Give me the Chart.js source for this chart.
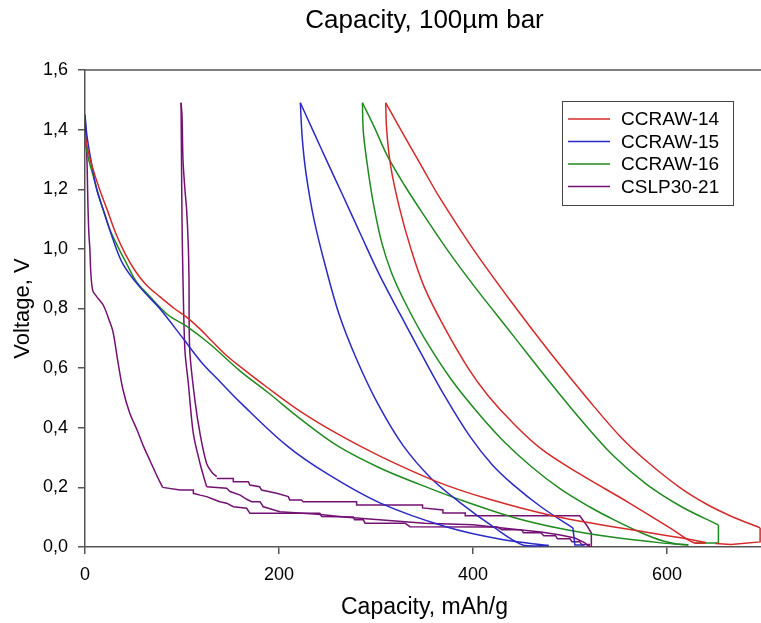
<!DOCTYPE html>
<html>
<head>
<meta charset="utf-8">
<script src="https://cdn.jsdelivr.net/npm/chart.js@4.4.0/dist/chart.umd.min.js"></script>
<style>
html,body{margin:0;padding:0;background:#fff;overflow:hidden;}
canvas{display:block;}
</style>
</head>
<body>
<canvas id="c" width="770" height="623"></canvas>
<script>
// ---- Data (capacity mAh/g, voltage V) ----
const seriesNames = ["CCRAW-14", "CCRAW-15", "CCRAW-16", "CSLP30-21"];
const seriesColors = ["#d42a2a", "#2a2ac4", "#1f8a1f", "#731273"];

const xTickValues = [0, 200, 400, 600];
const yTickValues = [0, 0.2, 0.4, 0.6, 0.8, 1.0, 1.2, 1.4, 1.6];

// CCRAW-14 (red)
const ccraw14Discharge1Cap  = [0,3,8,15,23,32,42,52,63,77,92,105,119,131,145,160,188,222,260,304,366,417,482,559,620,640];
const ccraw14Discharge1Volt = [1.38,1.33,1.27,1.20,1.13,1.05,0.98,0.925,0.88,0.84,0.80,0.77,0.73,0.69,0.645,0.605,0.535,0.455,0.38,0.305,0.215,0.160,0.105,0.060,0.028,0.015];
const ccraw14ChargeCap  = [640,627,605,560,510,470,440,415,395,370,350,336,324,315,311,310];
const ccraw14ChargeVolt = [0.013,0.015,0.06,0.15,0.245,0.33,0.42,0.51,0.60,0.74,0.87,1.00,1.14,1.28,1.40,1.49];
const ccraw14Discharge2Cap  = [310,322,336,350,366,400,440,480,520,552,580,613,640,665,696];
const ccraw14Discharge2Volt = [1.49,1.42,1.34,1.26,1.17,1.00,0.82,0.65,0.49,0.37,0.285,0.20,0.145,0.105,0.064];
const ccraw14TailCap  = [696,696,666,650];
const ccraw14TailVolt = [0.064,0.017,0.008,0.012];

// CCRAW-15 (blue)
const ccraw15Discharge1Cap  = [0,2,6,12,20,28,39,57,77,101,120,139,160,208,250,304,373,430,478];
const ccraw15Discharge1Volt = [1.45,1.38,1.30,1.20,1.12,1.04,0.95,0.87,0.80,0.70,0.62,0.555,0.485,0.34,0.245,0.148,0.067,0.025,0.005];
const ccraw15ChargeCap  = [478,452,420,387,357,328,302,280,262,248,236,228,224,222];
const ccraw15ChargeVolt = [0.005,0.006,0.07,0.148,0.23,0.34,0.48,0.63,0.78,0.94,1.10,1.25,1.37,1.49];
const ccraw15Discharge2Cap  = [222,236,250,265,284,304,325,348,372,397,420,441,470,503];
const ccraw15Discharge2Volt = [1.49,1.39,1.29,1.185,1.05,0.91,0.78,0.64,0.50,0.37,0.275,0.21,0.135,0.064];
const ccraw15TailCap  = [503,505,515];
const ccraw15TailVolt = [0.064,0.007,0.007];

// CCRAW-16 (green)
const ccraw16Discharge1Cap  = [0,3,8,15,25,35,43,53,64,85,105,129,160,188,222,260,304,345,387,441,490,541,596,622];
const ccraw16Discharge1Volt = [1.36,1.31,1.25,1.17,1.07,1.00,0.95,0.89,0.85,0.78,0.74,0.68,0.59,0.52,0.43,0.34,0.265,0.21,0.158,0.10,0.062,0.034,0.013,0.007];
const ccraw16ChargeCap  = [622,615,596,572,546,520,490,460,430,405,378,350,330,316,306,298,292,287,286];
const ccraw16ChargeVolt = [0.007,0.008,0.02,0.05,0.09,0.135,0.195,0.27,0.36,0.45,0.56,0.70,0.82,0.92,1.02,1.14,1.26,1.39,1.49];
const ccraw16Discharge2Cap  = [286,298,312,330,350,375,400,440,480,513,545,579,615,653];
const ccraw16Discharge2Volt = [1.49,1.41,1.31,1.21,1.11,0.99,0.88,0.715,0.55,0.42,0.305,0.21,0.135,0.074];
const ccraw16TailCap  = [653,653,630];
const ccraw16TailVolt = [0.074,0.013,0.013];

// CSLP30-21 (purple)
const cslpDischargeCurveCap  = [0,2,3,4,5,6,8,12,19,25,29,34,39,46,54,60,67,74,80];
const cslpDischargeCurveVolt = [1.45,1.30,1.15,1.05,1.00,0.92,0.86,0.84,0.81,0.76,0.72,0.62,0.53,0.45,0.39,0.34,0.29,0.24,0.20];
const cslpDischargeStepsCap  = [80,98,111.7,111.7,118.6,125.4,132.3,139,146,153,166.7,170,242,244,276.6,278,287,288.7,309,330,335,425,430,450,452,470,473,485,487,500,502,510,512,520,520];
const cslpDischargeStepsVolt = [0.20,0.191,0.191,0.180,0.174,0.169,0.160,0.152,0.147,0.135,0.130,0.113,0.113,0.102,0.101,0.091,0.091,0.080,0.080,0.080,0.068,0.067,0.058,0.058,0.048,0.048,0.038,0.038,0.028,0.028,0.018,0.018,0.008,0.008,0.0];
const cslpChargeStepsCap  = [520,515,505,490,470,440,400,350,300,270,240,201,189,183.8,180.4,171.8,166.7,160,149.5,146,125.4];
const cslpChargeStepsVolt = [0.0,0.015,0.03,0.04,0.05,0.06,0.075,0.08,0.092,0.10,0.11,0.118,0.13,0.135,0.152,0.152,0.160,0.174,0.186,0.197,0.202];
const cslpChargeRiseCap  = [125.4,122,118.6,111.7,106.5,103,101,100,99.5,99];
const cslpChargeRiseVolt = [0.202,0.24,0.28,0.38,0.55,0.66,0.90,1.10,1.30,1.49];
const cslpDischarge2DropCap  = [99,100,101,103,104.8,106.5,107.2,108,113.4,118.6,125.4,131,135.8];
const cslpDischarge2DropVolt = [1.49,1.45,1.30,1.20,1.13,1.01,0.90,0.66,0.49,0.38,0.28,0.25,0.236];
const cslpDischarge2StepsCap  = [135.8,152.9,152.9,168.4,170,180,182,197.6,209.6,211,223,225,280,280,348,348,369,369,392,392,510,517,522,522];
const cslpDischarge2StepsVolt = [0.230,0.230,0.219,0.219,0.208,0.202,0.191,0.180,0.169,0.158,0.158,0.152,0.152,0.141,0.141,0.131,0.124,0.114,0.114,0.105,0.105,0.074,0.047,0.0];

const FONT = "'Liberation Sans', Arial, sans-serif";

function pts(caps, volts) { return caps.map((c, j) => ({x: c, y: volts[j]})); }
function line(si, caps, volts, tension) {
  const color = seriesColors[si];
  return { label: seriesNames[si], data: pts(caps, volts), borderColor: color, backgroundColor: color,
           borderWidth: 1.5, pointRadius: 0, showLine: true, tension, fill: false };
}
const SMOOTH = 0.35;

const datasets = [
  line(0, ccraw14Discharge1Cap, ccraw14Discharge1Volt, SMOOTH),
  line(0, ccraw14ChargeCap, ccraw14ChargeVolt, SMOOTH),
  line(0, ccraw14Discharge2Cap, ccraw14Discharge2Volt, SMOOTH),
  line(0, ccraw14TailCap, ccraw14TailVolt, 0),
  line(1, ccraw15Discharge1Cap, ccraw15Discharge1Volt, SMOOTH),
  line(1, ccraw15ChargeCap, ccraw15ChargeVolt, SMOOTH),
  line(1, ccraw15Discharge2Cap, ccraw15Discharge2Volt, SMOOTH),
  line(1, ccraw15TailCap, ccraw15TailVolt, 0),
  line(2, ccraw16Discharge1Cap, ccraw16Discharge1Volt, SMOOTH),
  line(2, ccraw16ChargeCap, ccraw16ChargeVolt, SMOOTH),
  line(2, ccraw16Discharge2Cap, ccraw16Discharge2Volt, SMOOTH),
  line(2, ccraw16TailCap, ccraw16TailVolt, 0),
  line(3, cslpDischargeCurveCap, cslpDischargeCurveVolt, 0.3),
  line(3, cslpDischargeStepsCap, cslpDischargeStepsVolt, 0),
  line(3, cslpChargeStepsCap, cslpChargeStepsVolt, 0),
  line(3, cslpChargeRiseCap, cslpChargeRiseVolt, 0.3),
  line(3, cslpDischarge2DropCap, cslpDischarge2DropVolt, 0.3),
  line(3, cslpDischarge2StepsCap, cslpDischarge2StepsVolt, 0)
];

const decorPlugin = {
  id: 'decor',
  afterDraw(chart) {
    const ctx = chart.ctx;
    const a = chart.chartArea;
    ctx.save();
    ctx.strokeStyle = '#555';
    ctx.lineWidth = 1.5;
    ctx.beginPath();
    ctx.moveTo(a.left, a.top);
    ctx.lineTo(a.right, a.top);
    ctx.stroke();
    ctx.fillStyle = '#000';
    ctx.font = '26px ' + FONT;
    ctx.textAlign = 'center';
    ctx.textBaseline = 'middle';
    ctx.fillText('Capacity, 100µm bar', (a.left + a.right) / 2, 21);
    const bx = 562.5, by = 101.5, bw = 171, bh = 104;
    ctx.fillStyle = '#fff';
    ctx.fillRect(bx, by, bw, bh);
    ctx.strokeStyle = '#444';
    ctx.lineWidth = 1;
    ctx.strokeRect(bx, by, bw, bh);
    const rows = [119, 141.5, 164, 186.5];
    ctx.font = '19px ' + FONT;
    ctx.textAlign = 'left';
    seriesNames.forEach((n, i) => {
      ctx.strokeStyle = seriesColors[i];
      ctx.lineWidth = 1.5;
      ctx.beginPath();
      ctx.moveTo(568, rows[i]);
      ctx.lineTo(610, rows[i]);
      ctx.stroke();
      ctx.fillStyle = '#000';
      ctx.fillText(n, 621, rows[i] + 1);
    });
    ctx.restore();
  }
};

new Chart(document.getElementById('c'), {
  type: 'scatter',
  data: { datasets },
  plugins: [decorPlugin],
  options: {
    responsive: false,
    animation: false,
    layout: { padding: { top: 70, right: 6, left: 0, bottom: 0 } },
    plugins: { legend: { display: false }, tooltip: { enabled: false } },
    scales: {
      x: {
        type: 'linear', min: 0, max: 700,
        afterFit: s => { s.height = 76; },
        afterBuildTicks: s => { s.ticks = xTickValues.map(v => ({value: v})); },
        border: { display: true, color: '#555', width: 1.5 },
        grid: { display: true, drawOnChartArea: false, drawTicks: true, tickLength: 7, color: '#555', lineWidth: 1.5 },
        ticks: { color: '#000', font: { size: 18, family: FONT }, padding: 10, maxRotation: 0,
                 callback: v => String(v) },
        title: { display: true, text: 'Capacity, mAh/g', color: '#000', font: { size: 23, family: FONT }, padding: { top: 0, bottom: 2 } }
      },
      y: {
        type: 'linear', min: 0, max: 1.6,
        afterFit: s => { s.width = 85; },
        afterBuildTicks: s => { s.ticks = yTickValues.map(v => ({value: v})); },
        border: { display: true, color: '#555', width: 1.5 },
        grid: { display: true, drawOnChartArea: false, drawTicks: true, tickLength: 7, color: '#555', lineWidth: 1.5 },
        ticks: { color: '#000', font: { size: 18, family: FONT }, padding: 10,
                 callback: v => Number(v).toFixed(1).replace('.', ',') },
        title: { display: true, text: 'Voltage, V', color: '#000', font: { size: 22, family: FONT }, padding: { top: 10, bottom: 0 } }
      }
    }
  }
});
</script>
</body>
</html>
